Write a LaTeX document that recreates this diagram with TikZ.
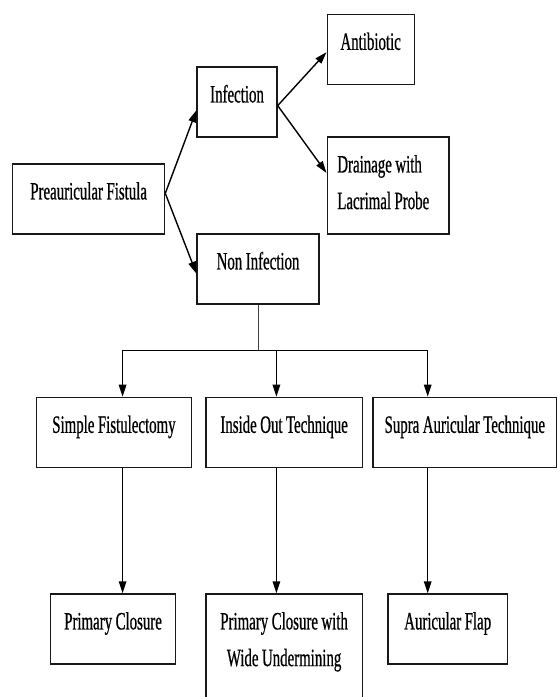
\documentclass[tikz,border=0pt]{standalone}
\usepackage{fontspec}
\setmainfont{Liberation Serif}[FakeStretch=0.595, FakeBold=0.6]
\usetikzlibrary{arrows.meta}
\protected\def\boxfnt{\fontsize{25pt}{36.7pt}\selectfont}
\begin{document}
\begin{tikzpicture}[x=1pt,y=-1pt,
  box/.style={draw=black!90, line width=1.3pt, rectangle, inner xsep=0pt, inner ysep=0pt,
    anchor=north west, align=flush center, text height=35.5pt, text depth=34.5pt,
    font=\boxfnt, execute at begin node={\spaceskip=3.5pt\xspaceskip=3.5pt\relax}},
  arr/.style={line width=1.4pt, -{Triangle[length=12pt,width=7.5pt]}},
  twoarr/.style={line width=1.4pt, line join=miter, {Triangle[length=12pt,width=7.5pt]}-{Triangle[length=12pt,width=7.5pt]}},
  thinln/.style={line width=0.9pt, draw=black!75}]
\clip (0,0) rectangle (557,697);
\fill[white] (0,0) rectangle (557,697);
% nodes
\node[box, text width=152pt] (pf) at (12,163.3) {Preauricular Fistula};
\node[box, text width=80pt] (inf) at (196.4,66.3) {Infection};
\node[box, text width=87pt] (anti) at (326.5,13.7) {Antibiotic};
\node[box, align=flush left, inner xsep=10.2pt, text width=101.4pt, text depth=61.5pt] (drain) at (326.5,136.3) {Drainage with\\Lacrimal Probe};
\node[box, text width=122pt] (noninf) at (196.4,233.3) {Non Infection};
\node[box, text width=155.6pt] (simple) at (35.5,396.7) {Simple Fistulectomy};
\node[box, text width=156.3pt] (inside) at (205.3,396.7) {Inside Out Technique};
\node[box, text width=183.7pt] (supra) at (372.3,396.7) {Supra Auricular Technique};
\node[box, text width=125.4pt] (pc) at (49.7,593.3) {Primary Closure};
\node[box, text width=156.3pt, text depth=120pt] (pcw) at (205.3,593.3) {Primary Closure with\\Wide Undermining};
\node[box, text width=119.7pt] (flap) at (387.2,593.3) {Auricular Flap};
% upper connectors
\draw[arr] ([yshift=5.6pt]pf.east) -- ([yshift=-8.35pt]inf.west);
\draw[arr] ([yshift=5.6pt]pf.east) -- ([yshift=-4.65pt]noninf.west);
\draw[arr] ([yshift=-3.65pt]inf.east) -- ([yshift=-2.85pt]anti.west);
\draw[arr] ([yshift=-3.65pt]inf.east) -- ([yshift=12.5pt]drain.west);
% tree
\coordinate (j1) at (122.6,350.7);
\coordinate (j2) at (276.4,350.7);
\coordinate (j3) at (427.7,350.7);
\draw[thinln] (noninf.south) -- (noninf.south |- j1);
\draw[twoarr] (j1 |- simple.north) -- (j1) -- (j3) -- (j3 |- supra.north);
\draw[arr] (j2) -- (j2 |- inside.north);
\draw[arr] (j1 |- simple.south) -- (j1 |- pc.north);
\draw[arr] (j2 |- inside.south) -- (j2 |- pcw.north);
\draw[arr] (j3 |- supra.south) -- (j3 |- flap.north);
\end{tikzpicture}
\end{document}
